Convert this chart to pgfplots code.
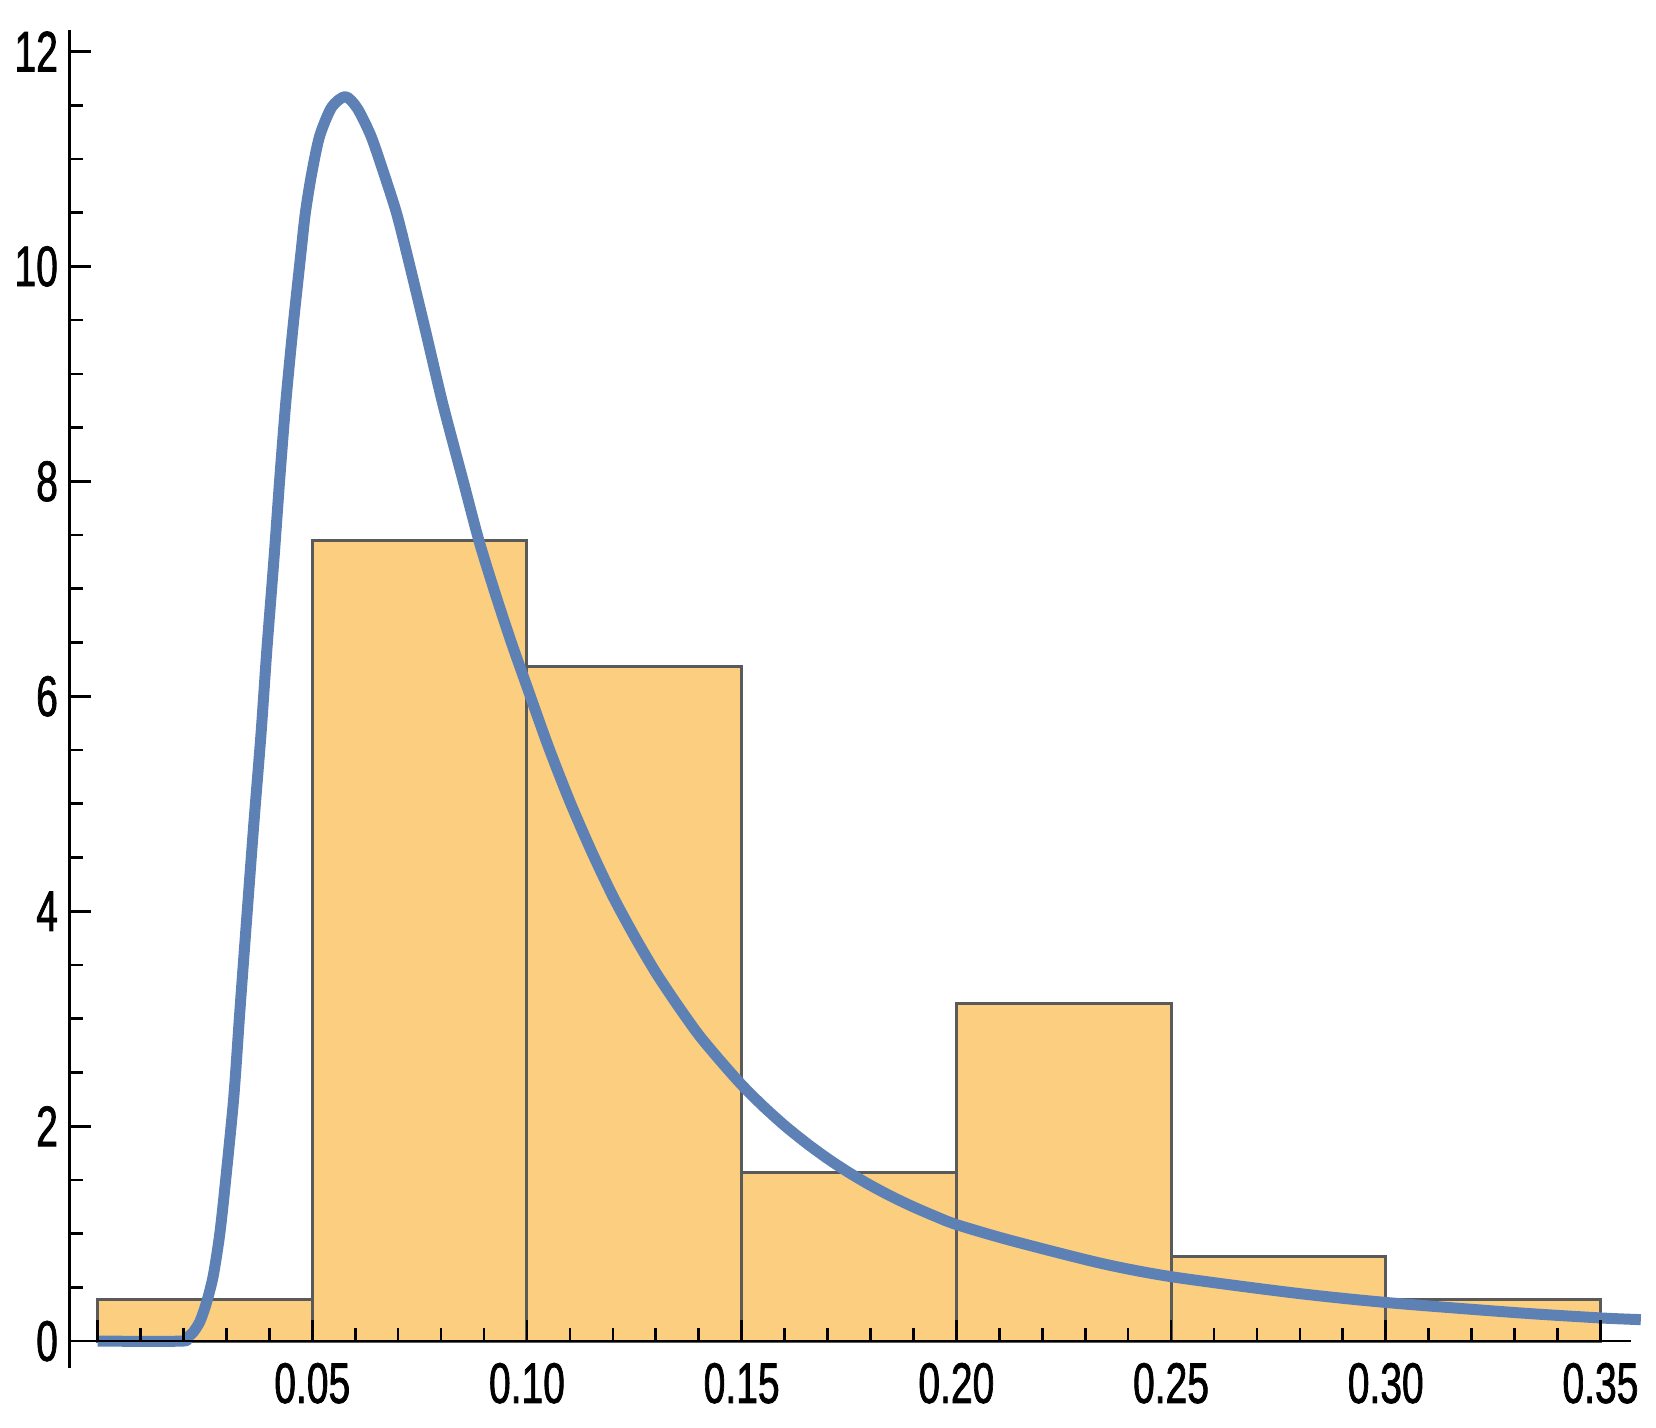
\documentclass[border=0pt]{standalone}
\usepackage{fontspec}
\setmainfont{Liberation Sans}[FakeStretch=0.68,FakeBold=1.2]
\usepackage{pgfplots}
\pgfplotsset{compat=1.18}
\definecolor{barfill}{HTML}{FBCF7F}
\definecolor{baredge}{HTML}{5A5A5A}
\definecolor{curvecol}{HTML}{5E81B5}
\begin{document}
\begin{tikzpicture}
\useasboundingbox (-20.9pt,-17.7pt) rectangle (475.9pt,410.4pt);
\begin{axis}[
  scale only axis, width=468.5pt, height=401.4pt,
  xmin=-0.0065, xmax=0.3572, ymin=-0.25, ymax=12.2,
  axis x line*=middle, axis y line*=left,
  hide obscured x ticks=false, hide obscured y ticks=false,
  tick align=inside,
  xtick={0,0.05,0.10,0.15,0.20,0.25,0.30,0.35},
  xticklabels={,0.05,0.10,0.15,0.20,0.25,0.30,0.35},
  ytick={0,2,4,6,8,10,12},
  yticklabels={0,2,4,6,8,10,12},
  minor xtick={0.01,0.02,0.03,0.04,0.06,0.07,0.08,0.09,0.11,0.12,0.13,0.14,0.16,0.17,0.18,0.19,0.21,0.22,0.23,0.24,0.26,0.27,0.28,0.29,0.31,0.32,0.33,0.34},
  minor ytick={0.5,1,1.5,2.5,3,3.5,4.5,5,5.5,6.5,7,7.5,8.5,9,9.5,10.5,11,11.5},
  major tick length=6.45pt, minor tick length=3.9pt,
  every tick/.style={black, line width=0.8pt},
  axis line style={black, line width=0.8pt},
  ticklabel style={font=\fontsize{17.2}{20}\selectfont},
  xticklabel style={yshift=-3pt},
  axis on top,
  clip=false,
]
\addplot[ybar interval, fill=barfill, draw=baredge, line width=0.9pt] coordinates {
  (0,0.392) (0.05,7.451) (0.10,6.275) (0.15,1.569) (0.20,3.137) (0.25,0.784) (0.30,0.392) (0.35,0.392)
};
\addplot[curvecol, line width=3.3pt, line join=round, smooth, tension=0.45] coordinates {
  (0,0) (0.0195,0) (0.0207,0.03) (0.0222,0.08) (0.0238,0.18) (0.0253,0.35) (0.0269,0.60)
  (0.0284,0.98) (0.0296,1.41) (0.0317,2.26) (0.0331,3.05) (0.0348,3.97) (0.0364,4.82)
  (0.0381,5.67) (0.0394,6.42) (0.0411,7.29) (0.0424,8.01) (0.0438,8.72) (0.0455,9.43)
  (0.0474,10.14) (0.0484,10.50) (0.0498,10.85) (0.0517,11.21) (0.0545,11.48) (0.0577,11.58)
  (0.0605,11.47) (0.0637,11.21) (0.0668,10.85) (0.0696,10.50) (0.0719,10.14) (0.0762,9.43)
  (0.0804,8.72) (0.0851,8.01) (0.0888,7.45) (0.0925,6.97) (0.0962,6.52) (0.1000,6.09)
  (0.105,5.53) (0.110,5.02) (0.115,4.56) (0.120,4.14) (0.125,3.77) (0.130,3.43)
  (0.135,3.13) (0.140,2.85) (0.145,2.61) (0.150,2.385) (0.155,2.186) (0.160,2.006)
  (0.165,1.845) (0.170,1.699) (0.175,1.568) (0.180,1.450) (0.185,1.344) (0.190,1.249)
  (0.195,1.163) (0.200,1.085) (0.2124,0.94) (0.2336,0.725) (0.2500,0.60)
  (0.2783,0.45) (0.3000,0.36) (0.3304,0.265) (0.3500,0.216) (0.3594,0.20)
};
\end{axis}
\end{tikzpicture}
\end{document}
